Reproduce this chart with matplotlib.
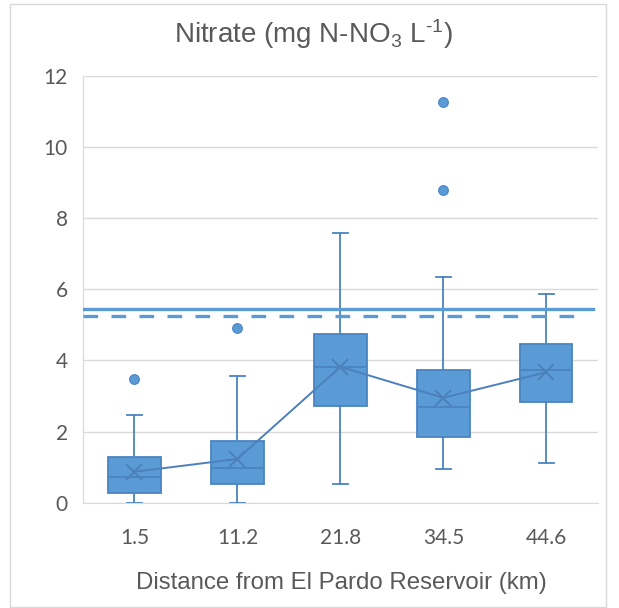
import matplotlib
matplotlib.use("Agg")
import matplotlib.pyplot as plt
from matplotlib.patches import Rectangle

plt.rcParams['mathtext.fontset'] = 'custom'
plt.rcParams['mathtext.rm'] = 'Liberation Sans'
plt.rcParams['mathtext.default'] = 'regular'

categories = ['1.5', '11.2', '21.8', '34.5', '44.6']
whis_low = [0.0, 0.0, 0.53, 0.94, 1.11]
q1 = [0.26, 0.53, 2.73, 1.86, 2.84]
median = [0.73, 0.97, 3.82, 2.70, 3.73]
q3 = [1.29, 1.73, 4.74, 3.73, 4.46]
whis_high = [2.47, 3.56, 7.59, 6.34, 5.86]
means = [0.87, 1.23, 3.82, 2.95, 3.67]
outliers = [[3.49], [4.90], [], [8.80, 11.27], []]
limit_solid = 5.44
limit_dashed = 5.25
yticks = [0, 2, 4, 6, 8, 10, 12]

FILL = '#5B9BD5'
EDGE = '#4A84C2'
LINE = '#4C80BC'
TEXT = '#595959'
GRID = '#D9D9D9'

W, H = 619, 608
fig = plt.figure(figsize=(W / 100, H / 100), dpi=100)
fig.patches.append(Rectangle((10 / W, 1 - 606.7 / H), 596 / W, (606.7 - 4) / H,
                             transform=fig.transFigure, fill=False,
                             edgecolor=GRID, linewidth=1.0))

ax = fig.add_axes([83 / W, 1 - 502.7 / H, (597.7 - 83) / W, (502.7 - 76) / H])

stats = []
for i in range(len(categories)):
    stats.append(dict(label=categories[i], whislo=whis_low[i], q1=q1[i], med=median[i],
                      q3=q3[i], whishi=whis_high[i], mean=means[i], fliers=outliers[i]))
pos = list(range(len(categories)))
ax.bxp(stats, positions=pos, widths=0.51, patch_artist=True, showmeans=False,
       boxprops=dict(facecolor=FILL, edgecolor=EDGE, linewidth=1.3),
       medianprops=dict(color=EDGE, linewidth=1.3),
       whiskerprops=dict(color=EDGE, linewidth=1.3),
       capprops=dict(color=EDGE, linewidth=1.3),
       capwidths=0.15,
       flierprops=dict(marker='o', markerfacecolor=FILL, markeredgecolor=EDGE,
                       markersize=7, markeredgewidth=0.8),
       zorder=3)

ax.plot(pos, means, color=LINE, linewidth=1.4, marker='x', markersize=12,
        markeredgewidth=1.4, zorder=4)

ax.axhline(limit_solid, xmin=0, xmax=0.99, color=FILL, linewidth=2.4, zorder=5)
ax.axhline(limit_dashed, xmin=0, xmax=0.975, color=FILL, linewidth=2.4,
           linestyle=(0, (4.4, 4.0)), zorder=5)

ax.set_xlim(-0.5, len(categories) - 0.5)
ax.set_ylim(0, 12)
ax.set_yticks(yticks)
ax.set_xticks(pos)
ax.set_xticklabels(categories)
ax.yaxis.grid(True, color=GRID, linewidth=1.0, zorder=0)
ax.set_axisbelow(True)
for s in ['top', 'right']:
    ax.spines[s].set_visible(False)
ax.spines['left'].set_color(GRID)
ax.spines['bottom'].set_color(GRID)
ax.spines['left'].set_zorder(0)
ax.spines['bottom'].set_zorder(0)
ax.tick_params(length=0, colors=TEXT, labelsize=15)
ax.tick_params(axis='y', pad=11)
ax.tick_params(axis='x', pad=18)
for lab in ax.get_xticklabels() + ax.get_yticklabels():
    lab.set_fontfamily('Lato')

fig.text(313 / W, 1 - 43 / H, r'Nitrate (mg N-NO$_3$ L$^{\text{-1}}$)', ha='center',
         va='baseline', fontsize=20, color=TEXT, family='Liberation Sans')
fig.text(341 / W, 1 - 589 / H, 'Distance from El Pardo Reservoir (km)', ha='center',
         va='baseline', fontsize=17.3, color=TEXT, family='Liberation Sans')

fig.savefig('out.png', dpi=100, facecolor='white')
